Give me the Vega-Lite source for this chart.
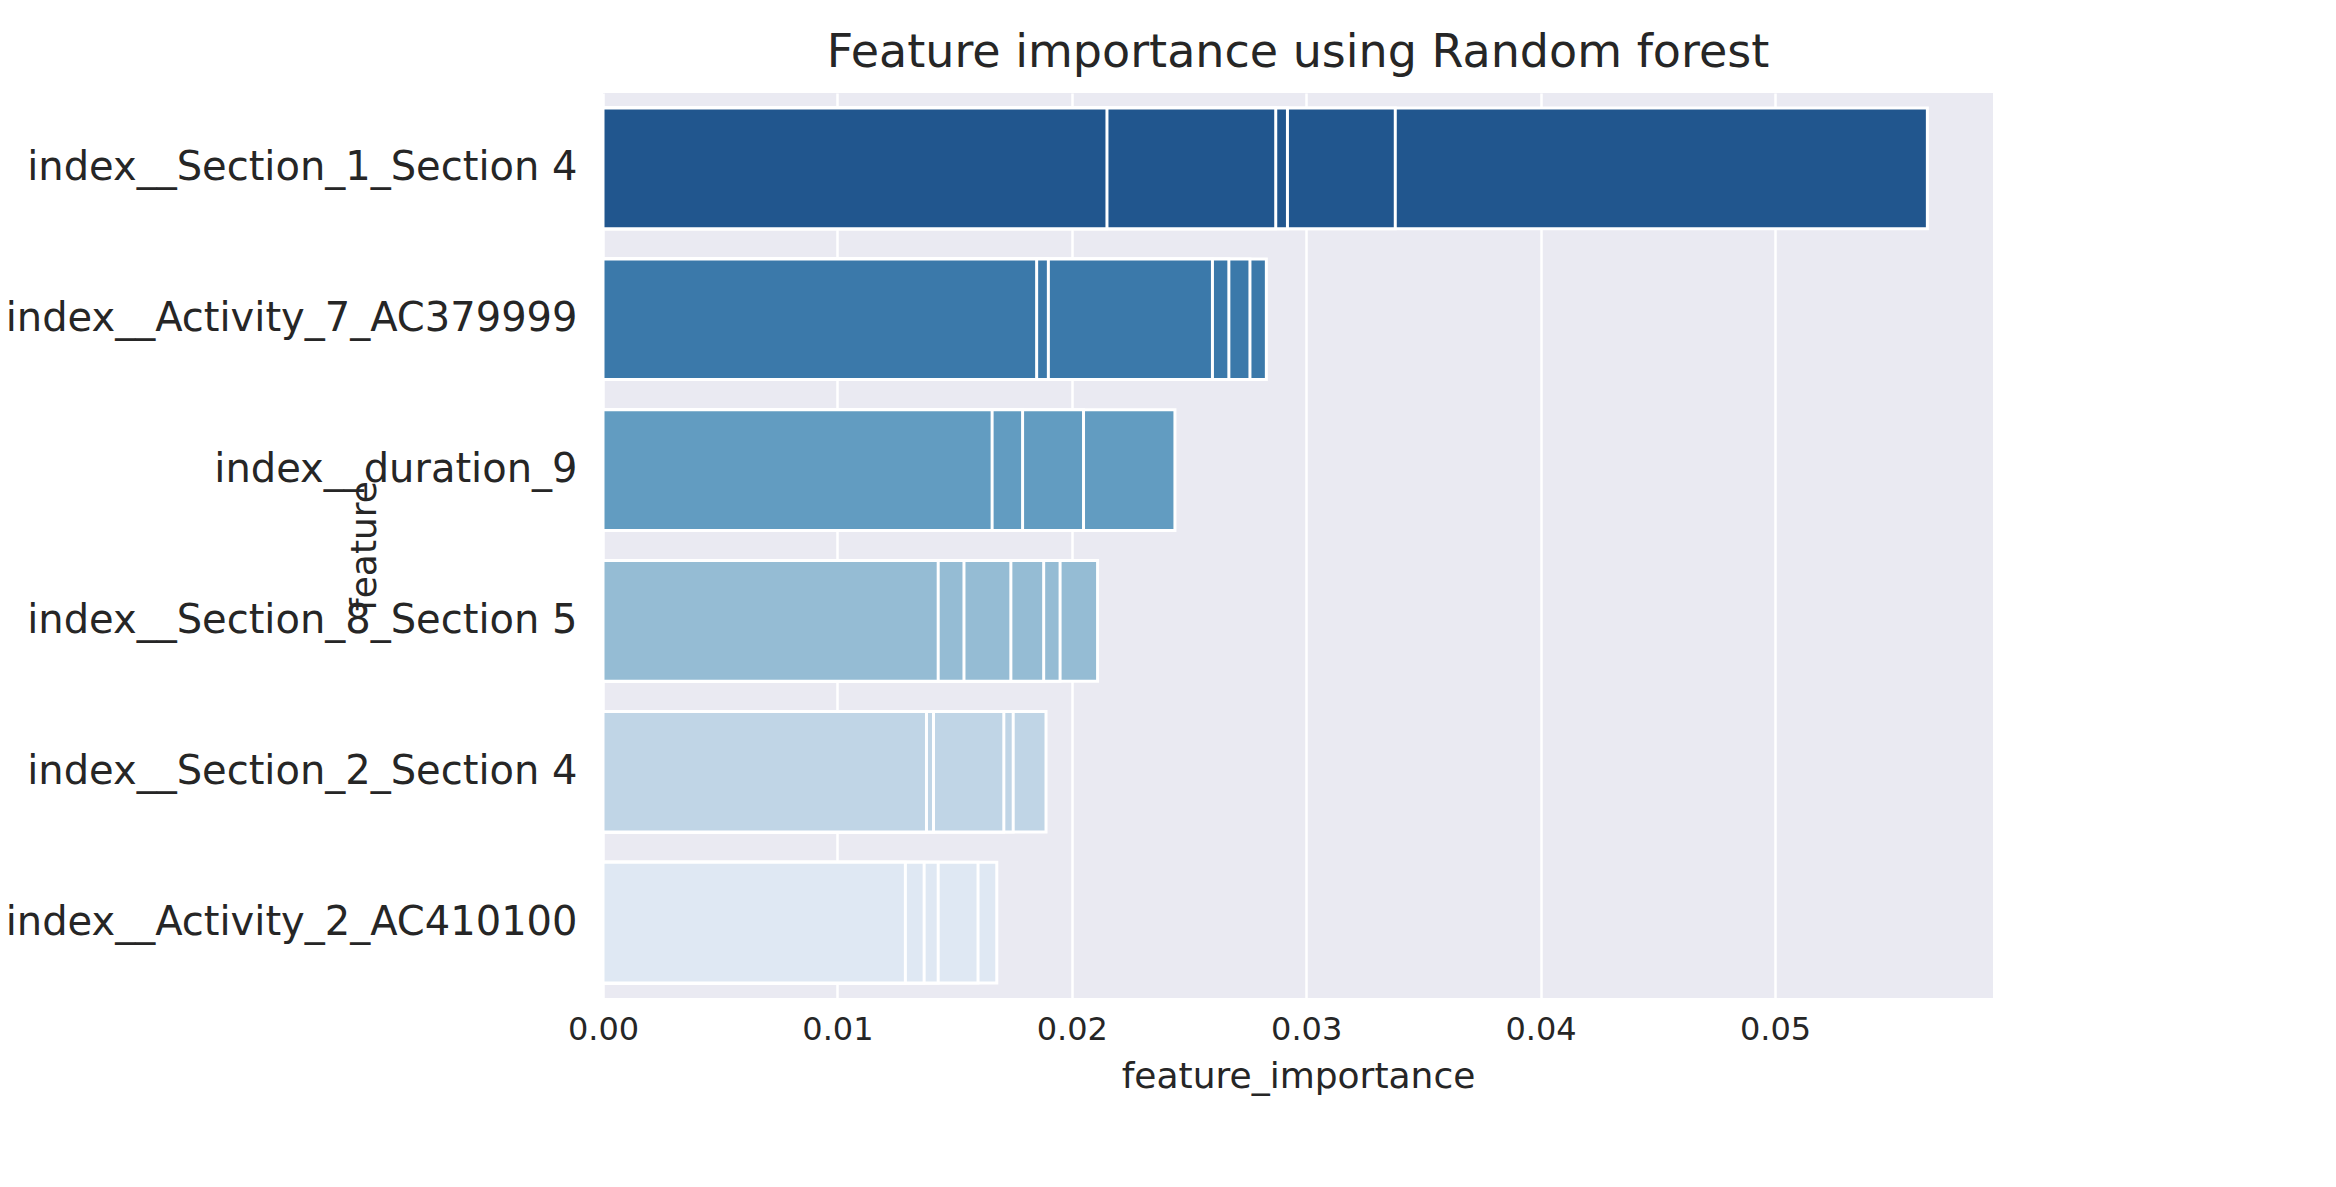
{
  "$schema": "https://vega.github.io/schema/vega-lite/v6.json",
  "width": 1390,
  "height": 905,
  "padding": {"left": 5, "top": 30, "right": 30, "bottom": 10},
  "background": "white",
  "title": {"text": "Feature importance using Random forest", "fontSize": 46, "font": "DejaVu Sans", "fontWeight": "normal", "color": "#262626", "offset": 16},
  "data": {
    "values": [
      {"feature": "index__Section_1_Section 4", "importance": 0.0565},
      {"feature": "index__Section_1_Section 4", "importance": 0.0338},
      {"feature": "index__Section_1_Section 4", "importance": 0.0292},
      {"feature": "index__Section_1_Section 4", "importance": 0.0287},
      {"feature": "index__Section_1_Section 4", "importance": 0.0215},
      {"feature": "index__Activity_7_AC379999", "importance": 0.0283},
      {"feature": "index__Activity_7_AC379999", "importance": 0.0276},
      {"feature": "index__Activity_7_AC379999", "importance": 0.0267},
      {"feature": "index__Activity_7_AC379999", "importance": 0.0260},
      {"feature": "index__Activity_7_AC379999", "importance": 0.0190},
      {"feature": "index__Activity_7_AC379999", "importance": 0.0185},
      {"feature": "index__duration_9", "importance": 0.0244},
      {"feature": "index__duration_9", "importance": 0.0205},
      {"feature": "index__duration_9", "importance": 0.0179},
      {"feature": "index__duration_9", "importance": 0.0166},
      {"feature": "index__Section_8_Section 5", "importance": 0.0211},
      {"feature": "index__Section_8_Section 5", "importance": 0.0195},
      {"feature": "index__Section_8_Section 5", "importance": 0.0188},
      {"feature": "index__Section_8_Section 5", "importance": 0.0174},
      {"feature": "index__Section_8_Section 5", "importance": 0.0154},
      {"feature": "index__Section_8_Section 5", "importance": 0.0143},
      {"feature": "index__Section_2_Section 4", "importance": 0.0189},
      {"feature": "index__Section_2_Section 4", "importance": 0.0175},
      {"feature": "index__Section_2_Section 4", "importance": 0.0171},
      {"feature": "index__Section_2_Section 4", "importance": 0.0141},
      {"feature": "index__Section_2_Section 4", "importance": 0.0138},
      {"feature": "index__Activity_2_AC410100", "importance": 0.0168},
      {"feature": "index__Activity_2_AC410100", "importance": 0.0160},
      {"feature": "index__Activity_2_AC410100", "importance": 0.0143},
      {"feature": "index__Activity_2_AC410100", "importance": 0.0137},
      {"feature": "index__Activity_2_AC410100", "importance": 0.0129}
    ]
  },
  "mark": {"type": "bar", "stroke": "white", "strokeWidth": 3},
  "encoding": {
    "y": {
      "field": "feature",
      "type": "nominal",
      "sort": null,
      "title": "feature",
      "scale": {"paddingInner": 0.2, "paddingOuter": 0.1},
      "axis": {"labelFontSize": 40, "labelLimit": 0, "titleFontSize": 36, "labelPadding": 26, "titlePadding": 20}
    },
    "x": {
      "field": "importance",
      "type": "quantitative",
      "stack": null,
      "title": "feature_importance",
      "scale": {"domain": [0, 0.0593], "nice": false},
      "axis": {"values": [0, 0.01, 0.02, 0.03, 0.04, 0.05], "format": ".2f", "labelFlush": false, "labelFontSize": 32, "titleFontSize": 36, "labelPadding": 16, "titlePadding": 14}
    },
    "color": {
      "field": "feature",
      "type": "nominal",
      "sort": null,
      "legend": null,
      "scale": {"range": ["#21568e", "#3b79aa", "#629cc1", "#95bcd4", "#c0d5e6", "#dfe8f3"]}
    }
  },
  "config": {
    "view": {"fill": "#eaeaf2", "stroke": null},
    "font": "DejaVu Sans",
    "axis": {"domain": false, "ticks": false, "grid": true, "gridColor": "white", "gridWidth": 2.5, "labelColor": "#262626", "titleColor": "#262626", "titleFontWeight": "normal", "labelFont": "DejaVu Sans", "titleFont": "DejaVu Sans"},
    "axisY": {"grid": false}
  }
}
